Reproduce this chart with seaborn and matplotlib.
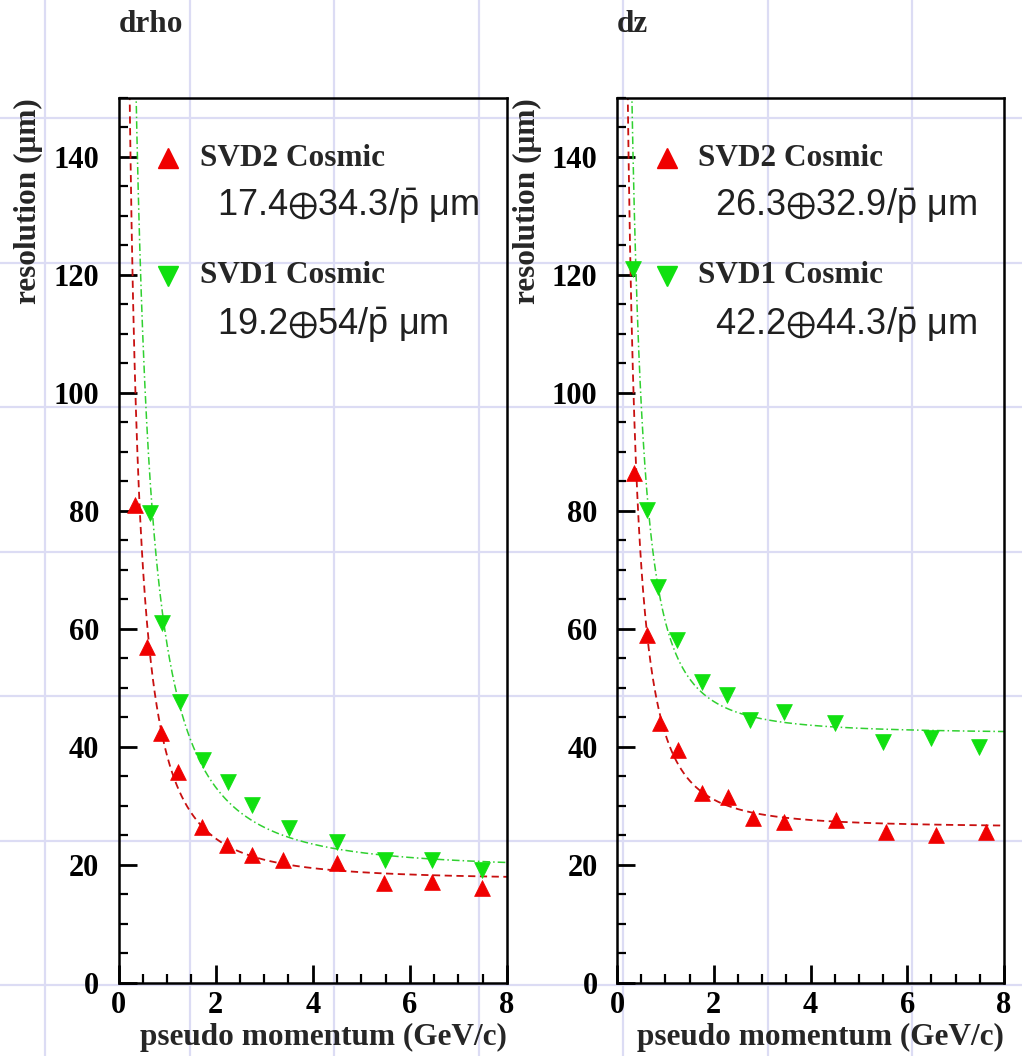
import numpy as np
import pandas as pd
import matplotlib
matplotlib.use("Agg")
import matplotlib.pyplot as plt
from matplotlib.ticker import MultipleLocator
import seaborn as sns

# Measured resolution vs pseudo momentum, cosmic-ray tracks
drho_svd2_p = [0.34, 0.59, 0.87, 1.22, 1.72, 2.23, 2.75, 3.38, 4.50, 5.46, 6.45, 7.48]
drho_svd2_res = [80.9, 56.9, 42.3, 35.7, 26.4, 23.3, 21.6, 20.8, 20.2, 16.8, 17.0, 16.0]
drho_svd1_p = [0.65, 0.90, 1.27, 1.74, 2.25, 2.75, 3.51, 4.50, 5.48, 6.45, 7.48]
drho_svd1_res = [79.7, 60.9, 47.5, 37.7, 34.0, 30.1, 26.2, 23.8, 20.8, 20.8, 19.1]

dz_svd2_p = [0.35, 0.61, 0.89, 1.26, 1.75, 2.29, 2.81, 3.46, 4.53, 5.56, 6.60, 7.63]
dz_svd2_res = [86.4, 58.9, 44.0, 39.4, 32.1, 31.5, 27.9, 27.2, 27.5, 25.5, 25.0, 25.5]
dz_svd1_p = [0.33, 0.62, 0.85, 1.24, 1.75, 2.27, 2.74, 3.46, 4.50, 5.49, 6.50, 7.48]
dz_svd1_res = [121.0, 80.1, 67.0, 58.0, 51.0, 48.7, 44.5, 45.8, 44.0, 40.8, 41.4, 40.0]

# Fit parameters: sigma = a (+) b / p
drho_svd2_fit = (17.4, 34.3)
drho_svd1_fit = (19.2, 54.0)
dz_svd2_fit = (26.3, 32.9)
dz_svd1_fit = (42.2, 44.3)

panel_titles = ["drho", "dz"]
series_labels = ["SVD2 Cosmic", "SVD1 Cosmic"]
x_label = "pseudo momentum (GeV/c)"
y_label = "resolution (\u03bcm)"

sns.set_theme(style="white")
plt.rcParams["font.family"] = ["Liberation Serif", "DejaVu Serif"]
plt.rcParams["mathtext.fontset"] = "custom"
plt.rcParams["mathtext.rm"] = "Liberation Sans"
plt.rcParams["mathtext.it"] = "Liberation Sans:italic"
plt.rcParams["mathtext.bf"] = "Liberation Sans:bold"
plt.rcParams["mathtext.fallback"] = "stixsans"

RED = "#f00000"
RED_LINE = "#c81010"
GREEN = "#10e010"
GREEN_LINE = "#30d030"

W, H = 1022, 1056
fig = plt.figure(figsize=(W / 100, H / 100), dpi=100)
fig.patch.set_facecolor("white")

# faint lavender sheet grid behind everything
bg = fig.add_axes([0, 0, 1, 1], zorder=-10)
bg.set_xlim(0, W)
bg.set_ylim(H, 0)
bg.axis("off")
for gx in np.arange(45, W, 144.5):
    bg.axvline(gx, color="#dcdcf4", lw=1.6)
for gy in np.arange(118, H, 144.5):
    bg.axhline(gy, color="#dcdcf4", lw=1.6)

ax_w = 388.5 / W
ax_h = 884.5 / H
ax_b = 1 - 982.5 / H
axes = [fig.add_axes([118.5 / W, ax_b, ax_w, ax_h]),
        fig.add_axes([617 / W, ax_b, 387 / W, ax_h])]

panels = [
    (drho_svd2_p, drho_svd2_res, drho_svd1_p, drho_svd1_res, drho_svd2_fit, drho_svd1_fit),
    (dz_svd2_p, dz_svd2_res, dz_svd1_p, dz_svd1_res, dz_svd2_fit, dz_svd1_fit),
]

pgrid = np.linspace(0.05, 8.0, 800)


def fit_curve(a, b):
    return np.sqrt(a ** 2 + (b / pgrid) ** 2)


def fmt_fit(a, b):
    return "$\\mathrm{%g\u2295%g/\\bar{p}\\ \u03bcm}$" % (a, b)


for ax, title, (p2, r2, p1, r1, f2, f1) in zip(axes, panel_titles, panels):
    ax.set_facecolor("none")
    c2 = pd.DataFrame({"p": pgrid, "res": fit_curve(*f2)})
    c1 = pd.DataFrame({"p": pgrid, "res": fit_curve(*f1)})
    sns.lineplot(data=c2, x="p", y="res", ax=ax, color=RED_LINE, lw=1.3,
                 linestyle=(0, (4, 2.5)), zorder=2)
    sns.lineplot(data=c1, x="p", y="res", ax=ax, color=GREEN_LINE, lw=1.1,
                 linestyle=(0, (5, 2, 1, 2)), zorder=2)
    sns.scatterplot(x=p2, y=r2, ax=ax, marker="^", s=130, color=RED,
                    edgecolor=RED, linewidth=0.5, zorder=3)
    sns.scatterplot(x=p1, y=r1, ax=ax, marker="v", s=130, color=GREEN,
                    edgecolor=GREEN, linewidth=0.5, zorder=3)

    ax.set_xlim(0, 8)
    ax.set_ylim(0, 150)
    ax.xaxis.set_major_locator(MultipleLocator(2))
    ax.xaxis.set_minor_locator(MultipleLocator(0.5))
    ax.yaxis.set_major_locator(MultipleLocator(20))
    ax.yaxis.set_minor_locator(MultipleLocator(5))
    ax.tick_params(which="both", direction="in", left=True, bottom=True,
                   top=False, right=False, colors="black")
    ax.tick_params(which="major", length=13, width=2.0)
    ax.tick_params(which="minor", length=6.5, width=1.6)
    ax.tick_params(axis="y", which="major", pad=14)
    ax.tick_params(axis="x", which="major", pad=6)
    for lab in ax.get_xticklabels() + ax.get_yticklabels():
        lab.set_fontsize(22)
        lab.set_fontweight("bold")
    for sp in ax.spines.values():
        sp.set_visible(True)
        sp.set_color("black")
        sp.set_linewidth(1.8)

    ax.set_xlabel(x_label, loc="right", fontsize=22.5, fontweight="bold",
                  va="center")
    ax.xaxis.set_label_coords(1.0, -54.5 / 884.5)
    ax.set_ylabel(y_label, loc="top", fontsize=22.5, fontweight="bold",
                  va="center")
    ax.yaxis.set_label_coords(-90.0 / 388.5, 1.0)

    ax.text(0.0, 1 + 66 / 884.5, title, transform=ax.transAxes, ha="left",
            va="baseline", fontsize=22.5, fontweight="bold")

    # key
    ax.plot([0.128], [0.932], marker="^", ms=14, color=RED, ls="none",
            transform=ax.transAxes, clip_on=False)
    ax.plot([0.128], [0.799], marker="v", ms=14, color=GREEN, ls="none",
            transform=ax.transAxes, clip_on=False)
    ax.text(0.21, 0.932, series_labels[0], transform=ax.transAxes,
            ha="left", va="center", fontsize=22.5, fontweight="bold")
    ax.text(0.21, 0.799, series_labels[1], transform=ax.transAxes,
            ha="left", va="center", fontsize=22.5, fontweight="bold")
    ax.text(0.254, 0.878, fmt_fit(*f2), transform=ax.transAxes, ha="left",
            va="center", fontsize=26, color="#202020")
    ax.text(0.254, 0.744, fmt_fit(*f1), transform=ax.transAxes, ha="left",
            va="center", fontsize=26, color="#202020")

fig.savefig("out.png", dpi=100, facecolor="white")
